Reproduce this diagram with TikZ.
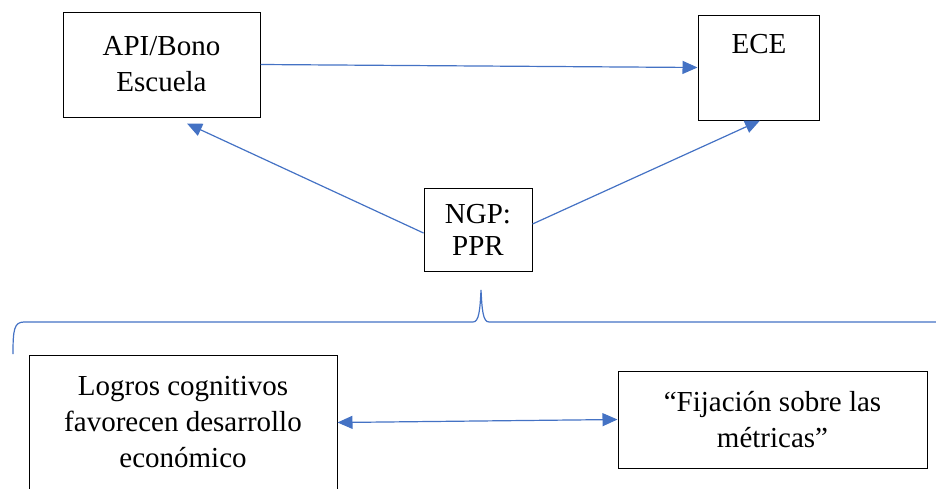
\documentclass[tikz,border=0pt]{standalone}
\usepackage{fontspec}
\setmainfont{Liberation Serif}
\usetikzlibrary{arrows.meta}
\definecolor{wordblue}{HTML}{4472C4}
\begin{document}
\begin{tikzpicture}[x=1pt,y=-1pt,
  box/.style={draw=black, line width=1pt, fill=white, inner sep=0pt, align=center,
    font=\fontsize{29}{36}\selectfont},
  lbl/.style={inner sep=0pt, align=center, font=\fontsize{29}{36}\selectfont},
  conn/.style={draw=wordblue, line width=1.2pt, -{Triangle[length=15pt,width=13pt]}},
  dconn/.style={draw=wordblue, line width=1.2pt, {Triangle[length=15pt,width=13pt]}-{Triangle[length=15pt,width=13pt]}},
  bracestyle/.style={draw=wordblue, line width=1.2pt}]
\useasboundingbox (0,0) rectangle (936,488);
\node[box, minimum width=197pt, minimum height=105pt] (api) at (161.5,64.5) {API/Bono\\Escuela};
\node[box, minimum width=121pt, minimum height=105pt] (ece) at (758.5,67.5) {};
\node[lbl] (ecetext) at (759,44) {ECE};
\node[box, minimum width=108pt, minimum height=83pt, font=\fontsize{29}{32}\selectfont] (ngp) at (478,229.5) {NGP:\\PPR};
\node[box, minimum width=308pt, minimum height=135pt] (lb) at (183,422.5) {Logros cognitivos\\favorecen desarrollo\\económico};
\node[box, minimum width=309pt, minimum height=97pt] (rb) at (772.5,419.5) {“Fijación sobre las\\métricas”};
\draw[conn] (api.east) -- (ece.west);
\draw[conn] ([yshift=-3.5pt]ngp.west) -- ([xshift=25.5pt,yshift=-6pt]api.south);
\draw[conn] ([yshift=5.5pt]ngp.east) -- ([xshift=1.5pt]ece.south);
\draw[dconn] (lb.east) -- (rb.west);
\draw[bracestyle] (13,354) .. controls (13,330) and (14,322) .. (24,322) -- (473,322)
  .. controls (479,322) and (480,310) .. (481,290)
  .. controls (482,310) and (483,322) .. (489,322) -- (936,322);
\end{tikzpicture}
\end{document}
